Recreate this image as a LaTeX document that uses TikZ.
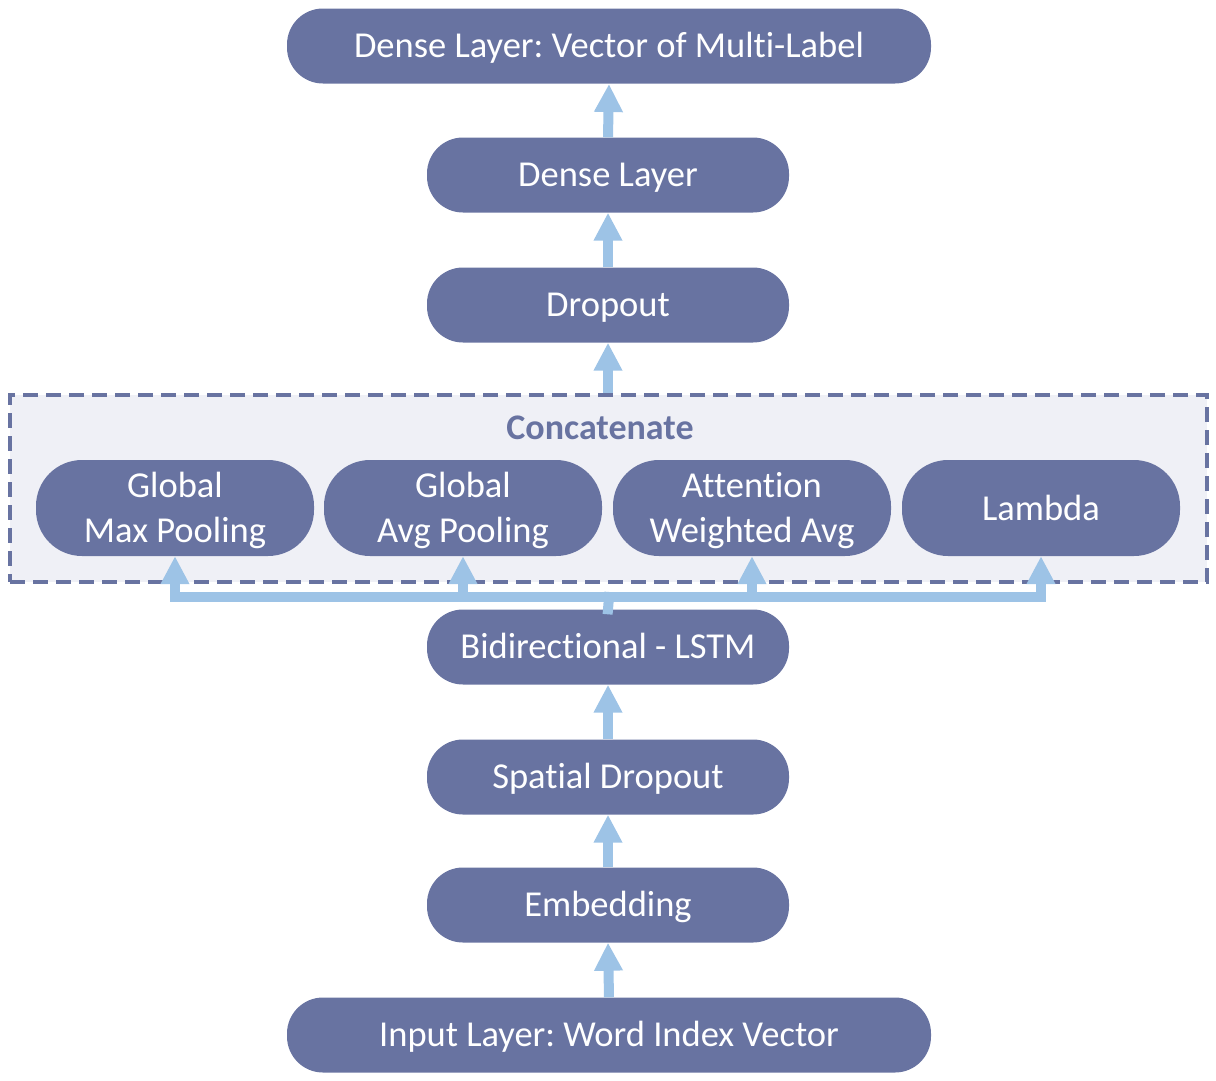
\documentclass[tikz,border=0pt]{standalone}
\usepackage{fontspec}
\setmainfont{Carlito}[Ligatures={NoCommon,NoRare,NoDiscretionary}]
\usetikzlibrary{arrows.meta}
\definecolor{nodefill}{HTML}{6873A1}
\definecolor{boxfill}{HTML}{EFF0F6}
\definecolor{arrowblue}{HTML}{9DC3E6}
\frenchspacing
\newcommand{\twolines}[2]{\raisebox{0pt}[\dimexpr\height+6pt\relax][\depth]{\begin{tabular}{@{}c@{}}#1\\#2\end{tabular}}}
\begin{document}
\begin{tikzpicture}[x=1pt,y=-1pt,
  layer/.style={fill=nodefill, text=white, rounded corners=36pt, minimum height=75pt, inner sep=0pt, align=center, font=\fontsize{36.5}{45}\selectfont},
  oneline/.style={layer, text height=31.5pt, text depth=8pt},
  wide/.style={oneline, minimum width=644pt},
  mid/.style={oneline, minimum width=362pt},
  pool/.style={layer, minimum width=278pt, minimum height=96pt, rounded corners=46pt},
  arr/.style={draw=arrowblue, line width=10pt, -{Triangle[width=27pt,length=28pt]}, arrowblue},
  bus/.style={draw=arrowblue, line width=10pt, line cap=rect},
  concatbox/.style={draw=nodefill, fill=boxfill, line width=4pt, dash pattern=on 15pt off 8pt, minimum width=1197pt, minimum height=187pt, inner sep=0pt}
]
\useasboundingbox (0,0) rectangle (1216,1080);
\node[concatbox] (box) at (608.5,488.5) {};
\node[text=nodefill, font=\fontsize{36}{42}\selectfont\bfseries] (concat) at (600,428) {Concatenate};

\node[wide] (out) at (609,46) {Dense Layer: Vector of Multi-Label};
\node[mid] (dense) at (608,175) {Dense Layer};
\node[mid] (drop) at (608,305) {Dropout};
\node[pool] (gmp) at (175,508) {\twolines{Global}{Max Pooling}};
\node[pool] (gap) at (463,508) {\twolines{Global}{Avg Pooling}};
\node[pool] (att) at (752,508) {\twolines{Attention}{Weighted Avg}};
\node[pool, text height=32.5pt, text depth=8pt] (lam) at (1041,508) {Lambda};
\node[mid] (lstm) at (608,647) {Bidirectional - LSTM};
\node[mid] (sdrop) at (608,777) {Spatial Dropout};
\node[mid] (emb) at (608,905) {Embedding};
\node[wide] (inp) at (609,1035) {Input Layer: Word Index Vector};

\draw[arr] (inp.north) -- (emb.south);
\draw[arr] (emb.north) -- (sdrop.south);
\draw[arr] (sdrop.north) -- (lstm.south);
\draw[arr] (drop.north) -- (dense.south);
\draw[arr] (dense.north) -- (out.north |- 0,84);
\draw[arr] (box.north -| drop.north) -- (drop.south);

\coordinate (busy) at (609,597);
\draw[bus] (lstm.north) -- (busy);
\draw[bus] (busy -| gmp.south) -- (busy -| lam.south);
\draw[arr] (busy -| gmp.south) -- (gmp.south);
\draw[arr] (busy -| gap.south) -- (gap.south);
\draw[arr] (busy -| att.south) -- (att.south);
\draw[arr] (busy -| lam.south) -- (lam.south);
\end{tikzpicture}
\end{document}
